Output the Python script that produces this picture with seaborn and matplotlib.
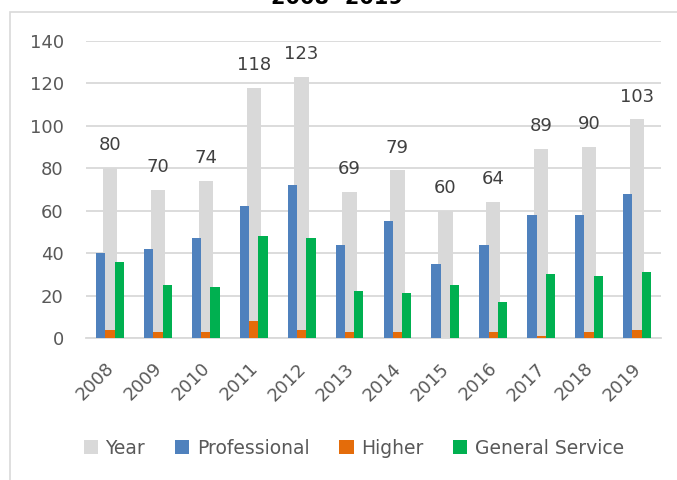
"""Staff counts by category, 2008-2019."""
import matplotlib
matplotlib.use("Agg")
import matplotlib.pyplot as plt
import matplotlib.transforms as mtransforms
from matplotlib.patches import Rectangle
import pandas as pd
import seaborn as sns

years = ["2008", "2009", "2010", "2011", "2012", "2013",
         "2014", "2015", "2016", "2017", "2018", "2019"]
year_total = [80, 70, 74, 118, 123, 69, 79, 60, 64, 89, 90, 103]
professional = [40, 42, 47, 62, 72, 44, 55, 35, 44, 58, 58, 68]
higher = [4, 3, 3, 8, 4, 3, 3, 0, 3, 1, 3, 4]
general_service = [36, 25, 24, 48, 47, 22, 21, 25, 17, 30, 29, 31]

series_names = ["Professional", "Higher", "General Service"]
colors = {"Year": "#D9D9D9", "Professional": "#4F81BD",
          "Higher": "#E46C0A", "General Service": "#00B050"}

sns.set_style("white")
plt.rcParams["font.family"] = ["DejaVu Sans"]

totals = pd.DataFrame({"Year": years, "Total": year_total})
parts = pd.DataFrame({"Year": years, "Professional": professional,
                      "Higher": higher, "General Service": general_service})
long = parts.melt(id_vars="Year", var_name="Series", value_name="Value")

fig = plt.figure(figsize=(6.77, 4.8), dpi=100)
ax = fig.add_axes([86 / 677, 1 - 338 / 480, 575 / 677, 297 / 480])

sns.barplot(data=totals, x="Year", y="Total", color=colors["Year"], width=0.30,
            saturation=1, linewidth=0, label="Year", ax=ax, zorder=2)
sns.barplot(data=long, x="Year", y="Value", hue="Series", hue_order=series_names,
            palette=colors, width=0.58, saturation=1, linewidth=0, ax=ax, zorder=3)

ax.bar_label(ax.containers[0], labels=[str(v) for v in year_total],
             padding=10, fontsize=13, color="#404040")

ax.set_ylim(0, 140)
ax.set_xlim(-0.5, 11.5)
ax.set_yticks(range(0, 141, 20))
ax.grid(axis="y", color="#D9D9D9", linewidth=1.3)
ax.set_axisbelow(True)
for s in ["left", "top", "right"]:
    ax.spines[s].set_visible(False)
ax.spines["bottom"].set_color("#D9D9D9")
ax.spines["bottom"].set_linewidth(1.3)
ax.set_xlabel("")
ax.set_ylabel("")
ax.tick_params(axis="both", length=0, labelsize=13, labelcolor="#595959")
ax.tick_params(axis="y", pad=16)
ax.tick_params(axis="x", pad=20)
ax.set_xticks(range(len(years)))
ax.set_xticklabels(years, rotation=45, ha="right", va="center", rotation_mode="anchor")
shift = mtransforms.ScaledTranslation(1 / 72, 0, fig.dpi_scale_trans)
for lab in ax.get_xticklabels():
    lab.set_transform(lab.get_transform() + shift)

handles, labels = ax.get_legend_handles_labels()
if ax.get_legend() is not None:
    ax.get_legend().remove()
order = [labels.index(n) for n in ["Year"] + series_names]
fig.legend([handles[i] for i in order], [labels[i] for i in order], ncol=4,
           loc="center", bbox_to_anchor=(354 / 677, 1 - 448 / 480),
           frameon=False, fontsize=13.5, handlelength=0.75, handleheight=0.75,
           handletextpad=0.4, columnspacing=1.6, labelcolor="#595959")

fig.patches.append(Rectangle((9.5 / 677, -0.05), 1.0, 1 - 12 / 480 + 0.05,
                             transform=fig.transFigure, fill=False,
                             edgecolor="#D9D9D9", linewidth=1.2))
# title is cropped at the top edge in the source image
fig.text(337 / 677, 1 - 4 / 480, "2008 -2019", ha="center", va="baseline",
         fontsize=15, fontweight="bold", color="#000000")

fig.savefig("out.png", dpi=100)
